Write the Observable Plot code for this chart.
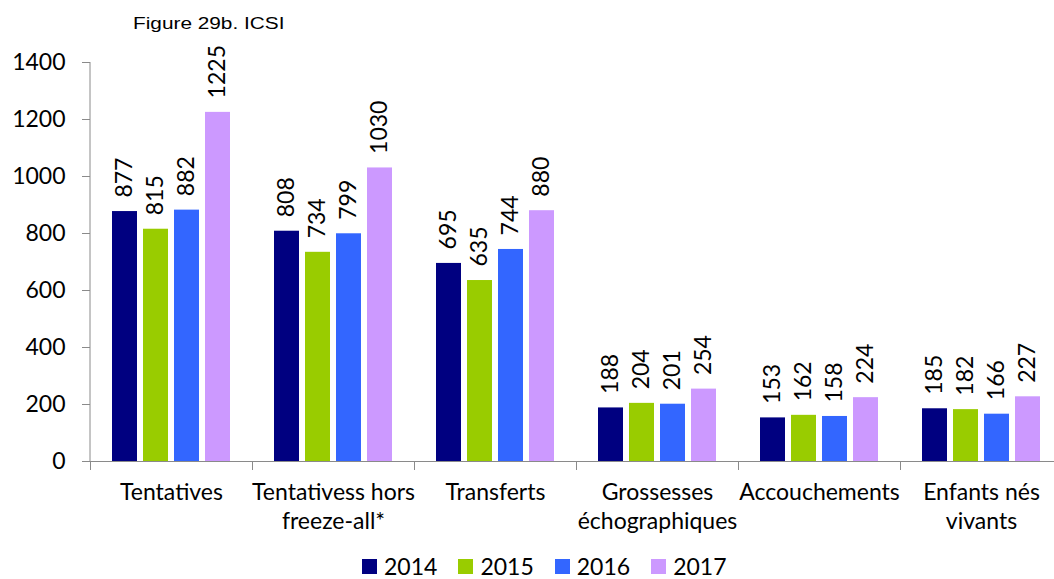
<!DOCTYPE html>
<html><head><meta charset="utf-8">
<script src="https://cdn.jsdelivr.net/npm/d3@7"></script>
<script src="https://cdn.jsdelivr.net/npm/@observablehq/plot@0.6"></script>
<style>
html,body{margin:0;padding:0;background:#fff;overflow:hidden;width:1054px;height:579px;}
#wrap{position:relative;width:1054px;height:579px;overflow:hidden;}
#chart{position:absolute;left:0;top:0;}
#chart svg{max-width:none !important;}
#title{position:absolute;left:133px;top:16px;font-family:"Liberation Sans",Arial,sans-serif;font-size:16px;line-height:16px;color:#000;white-space:nowrap;transform:scaleX(1.3);transform-origin:0 0;}
#legend{position:absolute;left:362px;top:554px;height:24px;display:flex;align-items:center;font-family:Lato,sans-serif;font-size:23px;line-height:24px;color:#000;}
#legend .item{display:flex;align-items:center;margin-right:21px;}
#legend .sw{width:15px;height:15px;margin-right:7px;}
</style>
</head><body>
<div id="wrap">
  <div id="chart"></div>
  <div id="title">Figure 29b. ICSI</div>
  <div id="legend"></div>
</div>
<script>
const categories = ["Tentatives", "Tentativess hors\nfreeze-all*", "Transferts", "Grossesses\néchographiques", "Accouchements", "Enfants nés\nvivants"];
const years = ["2014", "2015", "2016", "2017"];
const v2014 = [877, 808, 695, 188, 153, 185];
const v2015 = [815, 734, 635, 204, 162, 182];
const v2016 = [882, 799, 744, 201, 158, 166];
const v2017 = [1225, 1030, 880, 254, 224, 227];
const colors = ["#000080", "#99CC00", "#3366FF", "#CC99FF"];
const yTicks = [0, 200, 400, 600, 800, 1000, 1200, 1400];

const series = [v2014, v2015, v2016, v2017];
const data = [];
categories.forEach((c, i) => years.forEach((yr, j) => data.push({cat: c, year: yr, value: series[j][i]})));

const axisGray = "#8a8a8a";
const font = "Lato, sans-serif";

const chart = Plot.plot({
  width: 1063,
  height: 545,
  marginLeft: 88,
  marginRight: 0,
  marginTop: 62,
  marginBottom: 84,
  style: {fontFamily: font, background: "transparent", overflow: "visible", maxWidth: "none"},
  fx: {domain: categories, padding: 0, label: null},
  x: {domain: years, paddingInner: 0.19, paddingOuter: 0.63, axis: null},
  y: {domain: [0, 1400], label: null},
  color: {domain: years, range: colors},
  marks: [
    Plot.barY(data, {fx: "cat", x: "year", y: "value", fill: "year"}),
    Plot.ruleY([0], {stroke: axisGray, strokeWidth: 1}),
    Plot.frame({anchor: "left", insetTop: 399, insetBottom: -8, stroke: axisGray}),
    Plot.text(data, {fx: "cat", x: "year", y: "value", text: d => String(d.value), rotate: -90, textAnchor: "start", lineAnchor: "middle", dy: -14, fontSize: 23, fill: "#000"}),
    Plot.axisY({ticks: yTicks, tickFormat: d => String(d), tickSize: 8, tickPadding: 17, fontSize: 23, stroke: axisGray, color: "#000", label: null}),
    Plot.axisFx({anchor: "bottom", tickSize: 0, tickPadding: 18, fontSize: 23, lineHeight: 1.25, label: null})
  ]
});

// vertical y-axis line from the library scales
const ys = chart.scale("y");
const fxs = chart.scale("fx");
const x0 = fxs.apply(categories[0]);
d3.select(chart).append("line")
  .attr("x1", x0).attr("x2", x0)
  .attr("y1", ys.apply(1400)).attr("y2", ys.apply(0))
  .attr("stroke", axisGray).attr("stroke-width", 1);

document.getElementById("chart").appendChild(chart);

const legend = document.getElementById("legend");
years.forEach((yr, j) => {
  const it = document.createElement("div");
  it.className = "item";
  const sw = document.createElement("div");
  sw.className = "sw";
  sw.style.background = colors[j];
  const t = document.createElement("span");
  t.textContent = yr;
  it.appendChild(sw); it.appendChild(t);
  legend.appendChild(it);
});
</script>
</body></html>
